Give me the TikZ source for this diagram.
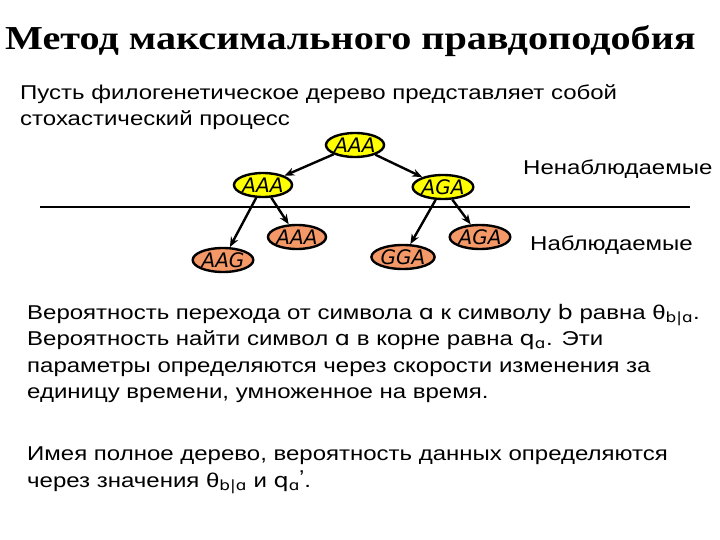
\documentclass[tikz,border=0pt]{standalone}
\usepackage{fontspec}
\setmainfont[FakeStretch=1.2]{Liberation Sans}
\newfontfamily\titlefont[FakeStretch=1.2]{Liberation Serif}
\newfontfamily\leaffont{DejaVu Sans}
\newfontfamily\symfont[FakeStretch=1.2]{DejaVu Sans}
\usetikzlibrary{arrows.meta, shapes.geometric}

\definecolor{hiddenfill}{RGB}{255,255,0}
\definecolor{seenfill}{RGB}{244,152,104}

\newcommand{\sym}[1]{{\symfont #1}}

\begin{document}
\begin{tikzpicture}[>={Stealth[length=10pt,width=8pt]}, x=1pt, y=-1pt,
    state/.style={ellipse, draw, line width=2.4pt, minimum width=58pt, minimum height=24pt,
        inner sep=0pt, font=\leaffont\itshape\fontsize{20}{20}\selectfont},
    hid/.style={state, fill=hiddenfill},
    obs/.style={state, fill=seenfill},
    edge/.style={->, line width=2.4pt},
    txt/.style={anchor=base west, inner sep=0pt, font=\fontsize{20}{20}\selectfont}]

    \useasboundingbox (0,0) rectangle (720,540);

    % Title and intro
    \node[anchor=base west, inner sep=0pt, font=\titlefont\bfseries\fontsize{33.5}{33.5}\selectfont] (title) at (5,50) {Метод максимального правдоподобия};
    \node[txt] (intro1) at (20,100) {Пусть филогенетическое дерево представляет собой};
    \node[txt] (intro2) at (20,126) {стохастический процесс};

    % Tree
    \node[hid] (root) at (355,145) {AAA};
    \node[hid] (left) at (263,185) {AAA};
    \node[hid] (right) at (443,187) {AGA};
    \node[obs] (aag) at (223,260) {AAG};
    \node[obs] (aaa) at (297,237) {AAA};
    \node[obs] (gga) at (403,257) {GGA};
    \node[obs] (aga) at (480,237) {AGA};

    \draw[edge] (root) -- (left);
    \draw[edge] (root) -- (right);
    \draw[edge] (left) -- (aag);
    \draw[edge] (left) -- (aaa);
    \draw[edge] (right) -- (gga);
    \draw[edge] (right) -- (aga);

    % Separator
    \coordinate (sepL) at (40,207);
    \coordinate (sepR) at (690,207);
    \draw[line width=1.5pt] (sepL) -- (sepR);
    \node[txt] (unseen) at (523,175) {Ненаблюдаемые};
    \node[txt] (seen) at (530,250) {Наблюдаемые};

    % Explanation
    \node[txt] (p1) at (27,319) {Вероятность перехода от символа \sym{ɑ} к символу \sym{b} равна θ\textsubscript{\sym{b|ɑ}}.};
    \node[txt] (p2) at (27,345) {Вероятность найти символ \sym{ɑ} в корне равна \sym{q}\textsubscript{\sym{ɑ}}. Эти};
    \node[txt] (p3) at (27,372) {параметры определяются через скорости изменения за};
    \node[txt] (p4) at (27,398) {единицу времени, умноженное на время.};
    \node[txt] (p5) at (27,460) {Имея полное дерево, вероятность данных определяются};
    \node[txt] (p6) at (27,487) {через значения θ\textsubscript{\sym{b|ɑ}} и \sym{q}\textsubscript{\sym{ɑ}}\kern-1pt\raisebox{3pt}{'}.};
\end{tikzpicture}
\end{document}
